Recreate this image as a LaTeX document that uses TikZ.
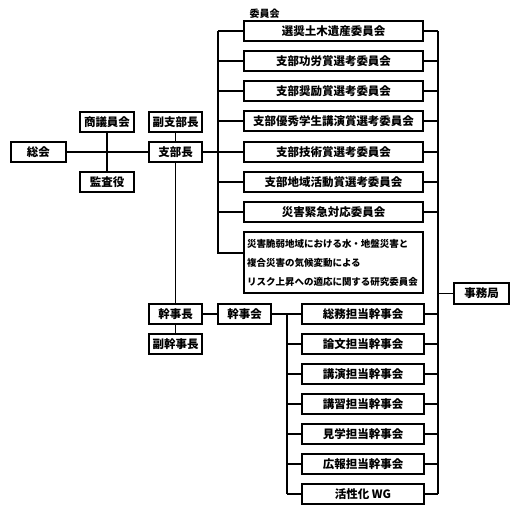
\documentclass[tikz,border=0pt]{standalone}
\usepackage{fontspec}
\newfontfamily\jp{Noto Sans CJK JP}
\usepackage{tikz}
\usetikzlibrary{calc}
\tikzset{orgbox/.style={draw,line width=1.2pt,minimum height=20pt,inner sep=1pt,font=\jp\bfseries\fontsize{11.5}{14}\selectfont},
         link/.style={line width=1.3pt}}

\begin{document}
\begin{tikzpicture}[x=1pt,y=-1pt]
\useasboundingbox (0,0) rectangle (515,514);

\node[orgbox,minimum width=55pt] (soukai) at (38.5,152) {総会};
\node[orgbox,minimum width=54pt] (shougi) at (107,122) {商議員会};
\node[orgbox,minimum width=54pt] (kansa) at (107,182) {監査役};
\node[orgbox,minimum width=53pt] (fukushibu) at (175.5,122) {副支部長};
\node[orgbox,minimum width=53pt] (shibu) at (175.5,152) {支部長};
\node[orgbox,minimum width=53pt] (kanjicho) at (175.5,314) {幹事長};
\node[orgbox,minimum width=53pt] (fukukanji) at (175.5,344) {副幹事長};
\node[orgbox,minimum width=53pt] (kanjikai) at (244.5,314) {幹事会};
\node[orgbox,minimum width=55pt,minimum height=21pt] (jimu) at (481.5,293.5) {事務局};

\node[anchor=west,font=\jp\bfseries\fontsize{10}{12}\selectfont] (iinkai) at (246,14) {委員会};

\node[orgbox,minimum width=179pt] (c1) at (333.5,31) {選奨土木遺産委員会};
\node[orgbox,minimum width=179pt] (c2) at (333.5,61) {支部功労賞選考委員会};
\node[orgbox,minimum width=179pt] (c3) at (333.5,91) {支部奨励賞選考委員会};
\node[orgbox,minimum width=179pt] (c4) at (333.5,121) {支部優秀学生講演賞選考委員会};
\node[orgbox,minimum width=179pt] (c5) at (333.5,152) {支部技術賞選考委員会};
\node[orgbox,minimum width=179pt] (c6) at (333.5,182) {支部地域活動賞選考委員会};
\node[orgbox,minimum width=179pt] (c7) at (333.5,212) {災害緊急対応委員会};
\node[orgbox,minimum width=179pt,minimum height=61pt,text width=173pt,align=left,
      font=\jp\bfseries\fontsize{9.5}{19}\selectfont] (c8) at (333.5,262.5)
      {災害脆弱地域における水・地盤災害と\\複合災害の気候変動による\\リスク上昇への適応に関する研究委員会};

\node[orgbox,minimum width=122pt] (k1) at (363,314) {総務担当幹事会};
\node[orgbox,minimum width=122pt] (k2) at (363,344) {論文担当幹事会};
\node[orgbox,minimum width=122pt] (k3) at (363,374) {講演担当幹事会};
\node[orgbox,minimum width=122pt] (k4) at (363,404) {講習担当幹事会};
\node[orgbox,minimum width=122pt] (k5) at (363,434) {見学担当幹事会};
\node[orgbox,minimum width=122pt] (k6) at (363,464) {広報担当幹事会};
\node[orgbox,minimum width=122pt] (k7) at (363,494) {活性化 WG};

\coordinate (lbustop) at (218,31);
\coordinate (lbusbot) at (218,253);
\coordinate (rbustop) at (438,31);
\coordinate (rbusbot) at (438,494);
\coordinate (kbusbot) at (287,494);

\draw[link] (soukai) -- (shibu);
\draw[link] (shougi) -- (kansa);
\draw[link] (fukushibu) -- (shibu);
\draw[link] (shibu) -- (kanjicho);
\draw[link] (fukukanji) -- (kanjicho);
\draw[link] (shibu) -- (c5);
\draw[link] (kanjicho) -- (kanjikai);
\draw[link] (kanjikai) -- (k1);

\draw[link] (lbustop) -- (lbusbot) -- (lbusbot -| c8.west);
\draw[link] (rbustop) -- (rbusbot);
\draw[link] (kanjikai.east -| kbusbot) -- (kbusbot);

\foreach \i in {1,...,7}
         {
           \draw[link] (c\i.west) -- (c\i.west -| lbustop);
           \draw[link] (c\i.east) -- (c\i.east -| rbustop);
           \draw[link] (k\i.west) -- (k\i.west -| kbusbot);
           \draw[link] (k\i.east) -- (k\i.east -| rbustop);
         }

\draw[link] (jimu) -- (jimu.west -| rbustop);
\end{tikzpicture}
\end{document}
